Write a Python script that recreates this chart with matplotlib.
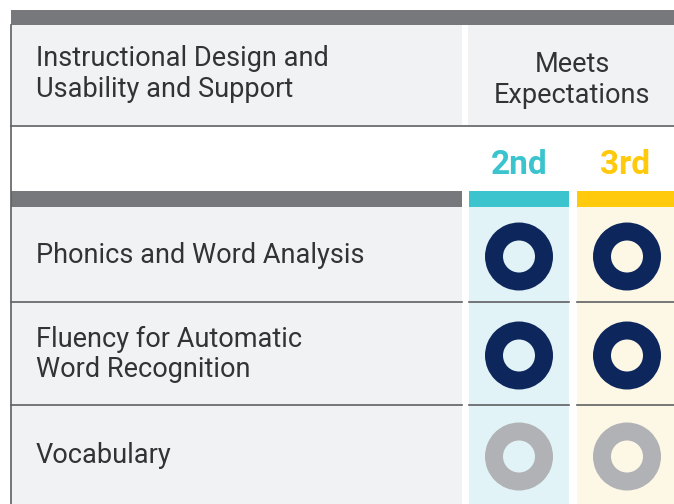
import matplotlib

matplotlib.use("Agg")
import matplotlib.pyplot as plt
from matplotlib.patches import Rectangle, Wedge

# content
header_left = "Instructional Design and\nUsability and Support"
header_right = "Meets\nExpectations"
grades = ["2nd", "3rd"]
criteria = ["Phonics and Word Analysis",
            "Fluency for Automatic\nWord Recognition",
            "Vocabulary"]
# rating per criterion per grade: True = meets, False = not rated
ratings = [[True, True], [True, True], [False, False]]

# palette
GRAY_BAR = "#77787b"
CELL = "#f1f2f4"
LINE = "#5f6062"
GRADE_COLORS = ["#3bc4cd", "#ffc90c"]
GRADE_BG = ["#e1f3f6", "#fdf8e6"]
NAVY = "#0d275d"
MUTED = "#b1b2b5"
TEXT = "#333333"
FS = 19.5

W, H = 674, 504
fig = plt.figure(figsize=(W / 100, H / 100), dpi=100)
ax = fig.add_axes([0, 0, 1, 1])
ax.set_xlim(0, W)
ax.set_ylim(H, 0)
ax.axis("off")

left_x0, left_x1 = 11, 462
col_spans = [(469, 569), (577, 674)]
row_edges = [207, 302, 405, 504]


def rect(x0, y0, x1, y1, color):
    ax.add_patch(Rectangle((x0, y0), x1 - x0, y1 - y0, color=color, lw=0))


# header block
rect(left_x0, 10, W, 25, GRAY_BAR)
rect(left_x0, 25, left_x1, 125, CELL)
rect(468, 25, W, 125, CELL)
ax.plot([left_x0, W], [125.5, 125.5], color=LINE, lw=1.2)
ax.text(36, 74, header_left, fontsize=FS, color=TEXT, family="Roboto",
        va="center", ha="left", linespacing=1.18)
ax.text(572, 80, header_right, fontsize=FS, color=TEXT, family="Roboto",
        va="center", ha="center", linespacing=1.18)

# grade labels and coloured bars
rect(left_x0, 191, left_x1, 207, GRAY_BAR)
for (x0, x1), g, c, bg in zip(col_spans, grades, GRADE_COLORS, GRADE_BG):
    ax.text((x0 + x1) / 2, 165, g, fontsize=24, fontweight="bold", color=c,
            family="Roboto", ha="center", va="center")
    rect(x0, 191, x1, 207, c)
    rect(x0, 207, x1, H, bg)

# criterion rows
rect(left_x0, 207, left_x1, H, CELL)
for i, name in enumerate(criteria):
    y0, y1 = row_edges[i], row_edges[i + 1]
    mid = (y0 + y1) / 2
    ax.text(36, mid + 1, name, fontsize=FS, color=TEXT, family="Roboto",
            va="center", ha="left", linespacing=1.18)
    for j, (x0, x1) in enumerate(col_spans):
        cx = (x0 + x1) / 2 + (0 if j == 0 else 1.5)
        color = NAVY if ratings[i][j] else MUTED
        ax.add_patch(Wedge((cx, mid + 2), 34, 0, 360, width=18, color=color, lw=0))
    if i < len(criteria) - 1:
        for xa, xb in [(left_x0, left_x1)] + col_spans:
            ax.plot([xa, xb], [y1, y1], color=LINE, lw=1.2)

# left border
ax.plot([10.5, 10.5], [25, H], color=LINE, lw=1.2)

fig.savefig("out.png", dpi=100)
plt.close(fig)
